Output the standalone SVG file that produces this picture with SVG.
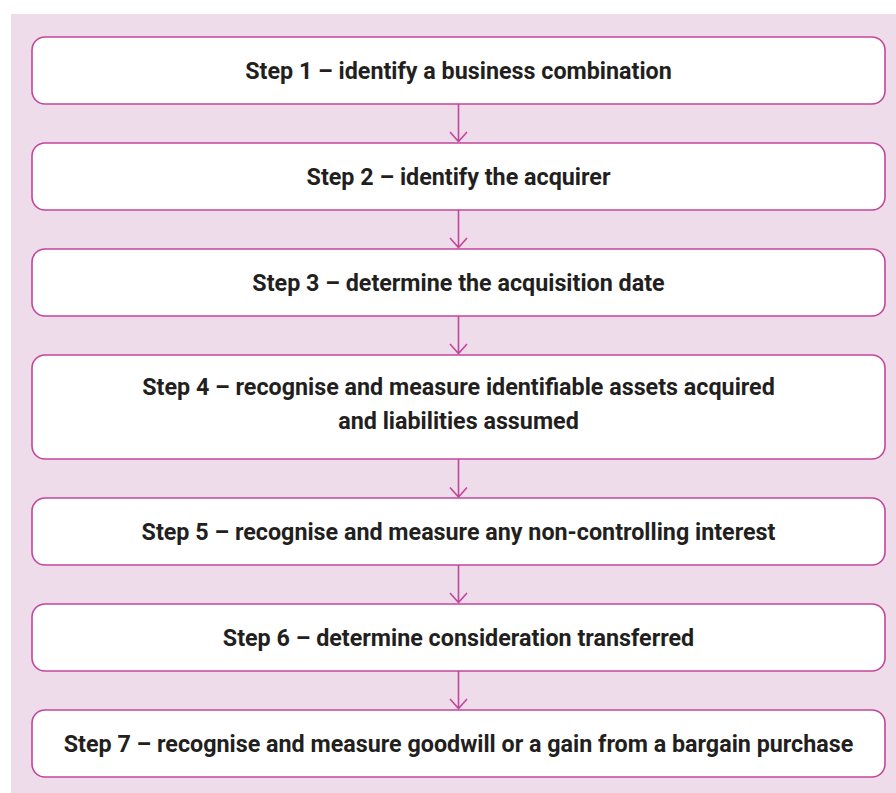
<svg xmlns="http://www.w3.org/2000/svg" width="896" height="793" viewBox="0 0 896 793">
<style>
.box{fill:#ffffff;stroke:#c2469c;stroke-width:1.6}
.t{font-family:Roboto,"Liberation Sans",sans-serif;font-weight:bold;font-size:23.3px;fill:#231f20;text-anchor:middle}
.c{stroke:#c2469c;stroke-width:1.6;fill:none}
</style>
<rect x="11" y="14" width="885" height="779" fill="#eedcea"/>
<g id="connectors">
<path class="c" d="M458.5 104 V141.5 M450 132 L458.5 141.5 L467 132"/>
<path class="c" d="M458.5 210 V247.5 M450 238 L458.5 247.5 L467 238"/>
<path class="c" d="M458.5 316 V353.5 M450 344 L458.5 353.5 L467 344"/>
<path class="c" d="M458.5 459 V497 M450 487.5 L458.5 497 L467 487.5"/>
<path class="c" d="M458.5 565 V602.5 M450 593 L458.5 602.5 L467 593"/>
<path class="c" d="M458.5 671 V708.5 M450 699 L458.5 708.5 L467 699"/>
</g>
<g id="step1"><rect class="box" x="32" y="37" width="853" height="67" rx="13"/><text class="t" x="458.5" y="78.5">Step 1 – identify a business combination</text></g>
<g id="step2"><rect class="box" x="32" y="143" width="853" height="67" rx="13"/><text class="t" x="458.5" y="184.5">Step 2 – identify the acquirer</text></g>
<g id="step3"><rect class="box" x="32" y="249" width="853" height="67" rx="13"/><text class="t" x="458.5" y="290.5">Step 3 – determine the acquisition date</text></g>
<g id="step4"><rect class="box" x="32" y="355" width="853" height="104" rx="13"/><text class="t" x="458.5" y="394.5">Step 4 – recognise and measure identifiable assets acquired</text><text class="t" x="458.5" y="428.5">and liabilities assumed</text></g>
<g id="step5"><rect class="box" x="32" y="498" width="853" height="67" rx="13"/><text class="t" x="458.5" y="539.5">Step 5 – recognise and measure any non-controlling interest</text></g>
<g id="step6"><rect class="box" x="32" y="604" width="853" height="67" rx="13"/><text class="t" x="458.5" y="645.5">Step 6 – determine consideration transferred</text></g>
<g id="step7"><rect class="box" x="32" y="710" width="853" height="67" rx="13"/><text class="t" x="458.5" y="751.5">Step 7 – recognise and measure goodwill or a gain from a bargain purchase</text></g>
</svg>
